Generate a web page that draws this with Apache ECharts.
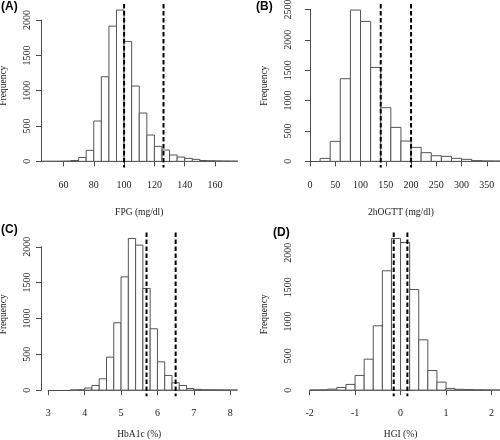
<!DOCTYPE html>
<html><head><meta charset="utf-8">
<script src="https://cdn.jsdelivr.net/npm/echarts@6/dist/echarts.min.js"></script>
<style>html,body{margin:0;padding:0;background:#fff}#c{width:500px;height:440px}</style>
</head><body><div id="c"></div>
<script>
// ---- data ----
const fpgEdges = [45,50,55,60,65,70,75,80,85,90,95,100,105,110,115,120,125,130,135,140,145,150,155,160,165,170,175];
const fpgCounts = [1,1,2,4,12,55,155,571,1198,1915,2142,1698,1066,684,373,212,160,90,61,42,28,12,9,7,5,4];
const fpgCuts = [100,126];
const fpgXTicks = [60,80,100,120,140,160];

const ogttEdges = [20,40,60,80,100,120,140,160,180,200,220,240,260,280,300,320,340,360,380];
const ogttCounts = [49,329,1360,2490,2303,1546,883,559,334,230,143,93,82,49,33,12,8,6];
const ogttCuts = [140,200];
const ogttXTicks = [0,50,100,150,200,250,300,350];

const hba1cEdges = [3.6,3.8,4.0,4.2,4.4,4.6,4.8,5.0,5.2,5.4,5.6,5.8,6.0,6.2,6.4,6.6,6.8,7.0,7.2,7.4,7.6,7.8,8.0,8.2];
const hba1cCounts = [2,5,30,65,158,460,940,1581,2116,2023,1419,856,395,205,102,65,23,10,6,5,3,2,2];
const hba1cCuts = [5.7,6.5];
const hba1cXTicks = [3,4,5,6,7,8];

const hgiEdges = [-2.0,-1.8,-1.6,-1.4,-1.2,-1.0,-0.8,-0.6,-0.4,-0.2,0,0.2,0.4,0.6,0.8,1.0,1.2,1.4,1.6,1.8,2.0,2.2];
const hgiCounts = [2,4,15,39,83,214,451,937,1738,2209,2150,1466,733,286,117,25,12,8,5,3,2];
const hgiCuts = [-0.15,0.15];
const hgiXTicks = [-2,-1,0,1,2];

const yTicks2000 = [0,500,1000,1500,2000];
const yTicks2500 = [0,500,1000,1500,2000,2500];

const xRanges = [[50,170],[0,360],[3,8],[-2,2]];
const xLabels = ['FPG (mg/dl)','2hOGTT (mg/dl)','HbA1c (%)','HGI (%)'];
const panelLabels = ['(A)','(B)','(C)','(D)'];

// ---- layout ----
const boxes = [
  {left:41, top:4, width:196.5, height:163.4, nameGap:40},
  {left:302.7, top:4, width:196.5, height:163.4, nameGap:40},
  {left:41, top:232.4, width:196.5, height:163.8, nameGap:33},
  {left:302.3, top:232.4, width:196.5, height:163.8, nameGap:33}
];
const labelPos = [[1,1],[256,1],[1,224],[273,227]];

const panels = [
  {edges:fpgEdges, counts:fpgCounts, cuts:fpgCuts, xTicks:fpgXTicks, yTicks:yTicks2000},
  {edges:ogttEdges, counts:ogttCounts, cuts:ogttCuts, xTicks:ogttXTicks, yTicks:yTicks2500},
  {edges:hba1cEdges, counts:hba1cCounts, cuts:hba1cCuts, xTicks:hba1cXTicks, yTicks:yTicks2000},
  {edges:hgiEdges, counts:hgiCounts, cuts:hgiCuts, xTicks:hgiXTicks, yTicks:yTicks2000}
];

const SERIF = 'Liberation Serif';
const TXT = '#1a1a1a';
const LINE = '#4a4a4a';
const FS = 9.5;
const TFS = 10;

const grid = [], xAxis = [], yAxis = [], series = [], title = [];

panels.forEach((p, i) => {
  const b = boxes[i];
  const r = xRanges[i];
  const ext = (r[1]-r[0])*0.04;
  const xlo = r[0]-ext, xhi = r[1]+ext;
  const maxC = Math.max(...p.counts);
  const ylo = -0.04*maxC, yhi = 1.04*maxC;
  const px = v => b.left + (v - xlo)/(xhi - xlo)*b.width;
  const py = v => b.top + b.height - (v - ylo)/(yhi - ylo)*b.height;

  // plot region grid
  const gPlot = grid.length;
  grid.push({left:b.left, top:b.top, width:b.width, height:b.height, containLabel:false, outerBoundsMode:'none'});
  xAxis.push({type:'value', gridIndex:gPlot, min:xlo, max:xhi,
    axisLine:{show:false}, axisTick:{show:false}, axisLabel:{show:false}, splitLine:{show:false},
    name:xLabels[i], nameLocation:'middle', nameGap:b.nameGap,
    nameTextStyle:{fontFamily:SERIF, fontSize:FS, color:TXT}});
  yAxis.push({type:'value', gridIndex:gPlot, min:ylo, max:yhi,
    axisLine:{show:false}, axisTick:{show:false}, axisLabel:{show:false}, splitLine:{show:false},
    name:'Frequency', nameLocation:'middle', nameGap:33,
    nameTextStyle:{fontFamily:SERIF, fontSize:FS, color:TXT}});

  // axis grid (ticks span only)
  const xt0 = p.xTicks[0], xtN = p.xTicks[p.xTicks.length-1];
  const yt0 = p.yTicks[0], ytN = p.yTicks[p.yTicks.length-1];
  const gAx = grid.length;
  grid.push({left:px(xt0), top:py(ytN), width:px(xtN)-px(xt0), height:py(yt0)-py(ytN), containLabel:false, outerBoundsMode:'none'});
  xAxis.push({type:'value', gridIndex:gAx, min:xt0, max:xtN, interval:p.xTicks[1]-p.xTicks[0],
    offset:(b.top+b.height)-py(yt0),
    axisLine:{show:true, lineStyle:{color:LINE, width:1}},
    axisTick:{show:true, length:5, lineStyle:{color:LINE, width:1}},
    axisLabel:{show:true, margin:12.5, fontFamily:SERIF, fontSize:TFS, color:TXT, formatter:v=>String(v)},
    splitLine:{show:false}});
  yAxis.push({type:'value', gridIndex:gAx, min:yt0, max:ytN, interval:p.yTicks[1]-p.yTicks[0],
    offset:px(xt0)-b.left,
    axisLine:{show:true, lineStyle:{color:LINE, width:1}},
    axisTick:{show:true, length:5, lineStyle:{color:LINE, width:1}},
    axisLabel:{show:true, rotate:90, margin:9, fontFamily:SERIF, fontSize:TFS, color:TXT, formatter:v=>String(v)},
    splitLine:{show:false}});

  const binData = p.counts.map((c, k) => [p.edges[k], p.edges[k+1], c]);
  series.push({type:'custom', xAxisIndex:gPlot, yAxisIndex:gPlot, clip:true, silent:true,
    data:binData,
    renderItem:(params, api) => {
      const a = api.coord([api.value(0), api.value(2)]);
      const c = api.coord([api.value(1), 0]);
      return {type:'rect', shape:{x:a[0], y:a[1], width:c[0]-a[0], height:c[1]-a[1]},
        style:{fill:'#fff', stroke:'#555', lineWidth:1}};
    }});
  series.push({type:'custom', xAxisIndex:gPlot, yAxisIndex:gPlot, clip:false, silent:true,
    data:p.cuts.map(v => [v]),
    renderItem:(params, api) => {
      const a = api.coord([api.value(0), yhi]);
      const c = api.coord([api.value(0), ylo]);
      return {type:'line', shape:{x1:a[0], y1:a[1], x2:c[0], y2:c[1]},
        style:{stroke:'#000', lineWidth:2, lineDash:[4.5,2.5]}};
    }});

  title.push({text:panelLabels[i], left:labelPos[i][0], top:labelPos[i][1], padding:0,
    textStyle:{fontFamily:'Liberation Sans', fontWeight:'bold', fontSize:12, color:'#000'}});
});

const chart = echarts.init(document.getElementById('c'), null, {renderer:'canvas'});
chart.setOption({animation:false, backgroundColor:'#fff', title, grid, xAxis, yAxis, series});
</script>
</body></html>
